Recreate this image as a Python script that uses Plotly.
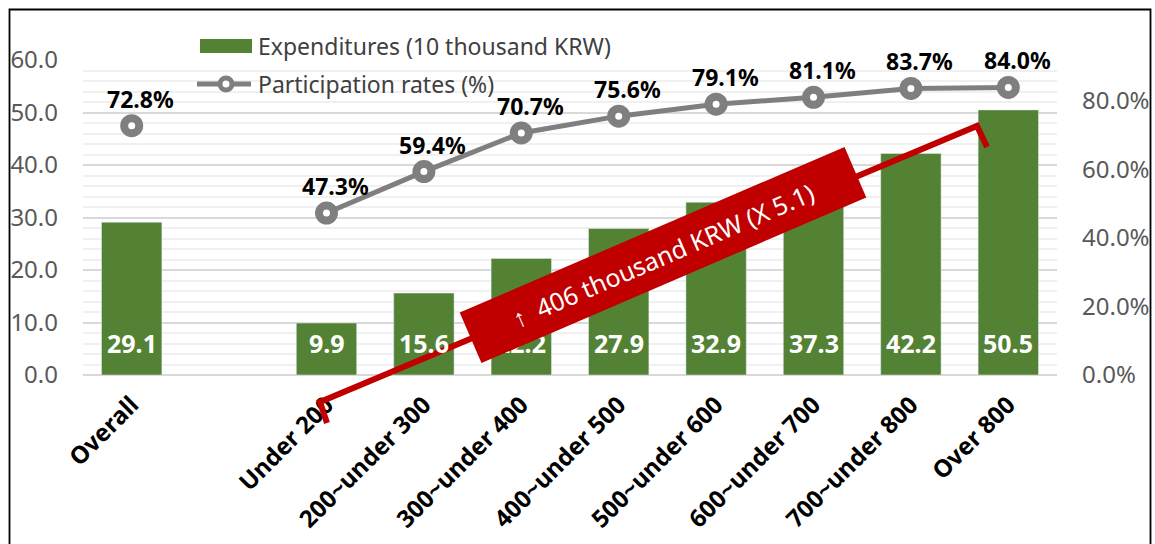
import plotly.graph_objects as go

categories = ["Overall", " ", "Under 200", "200~under 300", "300~under 400", "400~under 500",
              "500~under 600", "600~under 700", "700~under 800", "Over 800"]
expenditures = [29.1, None, 9.9, 15.6, 22.2, 27.9, 32.9, 37.3, 42.2, 50.5]
participation = [72.8, None, 47.3, 59.4, 70.7, 75.6, 79.1, 81.1, 83.7, 84.0]
left_ticks = [0, 10, 20, 30, 40, 50, 60]
right_ticks = [0, 20, 40, 60, 80]

W, H = 1155, 544
L, R, T, B = 83, 1057, 60, 375   # plot area in pixels


def px(x):
    return (x - L) / (R - L)


def py(y):
    return (B - y) / (B - T)


GREEN = "#548235"
GRAY = "#7F7F7F"
RED = "#C00000"
FONT = "Noto Sans"

fig = go.Figure()
fig.add_trace(go.Bar(x=categories, y=expenditures, marker_color=GREEN, width=0.62,
                     showlegend=False, hoverinfo="skip"))
fig.add_trace(go.Scatter(x=categories, y=participation, yaxis="y2", mode="lines+markers",
                         line=dict(color=GRAY, width=5), connectgaps=False,
                         marker=dict(symbol="circle", size=15, color="white",
                                     line=dict(color=GRAY, width=8)),
                         showlegend=False, hoverinfo="skip"))

annotations = []
# bar value labels
for c, v in zip(categories, expenditures):
    if v is None:
        continue
    annotations.append(dict(x=c, y=0, xref="x", yref="y", text=f"<b>{v:.1f}</b>",
                            showarrow=False, yanchor="middle", yshift=32,
                            font=dict(family=FONT, size=25, color="white")))
# line value labels
for c, v in zip(categories, participation):
    if v is None:
        continue
    annotations.append(dict(x=c, y=v, xref="x", yref="y2", text=f"<b>{v:.1f}%</b>",
                            showarrow=False, yanchor="middle", yshift=27, xshift=9,
                            font=dict(family=FONT, size=23, color="black")))

# legend texts
annotations.append(dict(x=px(256), y=py(46), xref="paper", yref="paper",
                        text="Expenditures (10 thousand KRW)", showarrow=False,
                        xanchor="left", yanchor="middle",
                        font=dict(family=FONT, size=23, color="#404040")))
annotations.append(dict(x=px(256), y=py(84), xref="paper", yref="paper",
                        text="Participation rates (%)", showarrow=False,
                        xanchor="left", yanchor="middle",
                        font=dict(family=FONT, size=23, color="#404040")))

# red callout box
annotations.append(dict(x=px(663), y=py(255), xref="paper", yref="paper",
                        text="↑\u00a0\u00a0406 thousand KRW (X 5.1)", showarrow=False,
                        textangle=-23.3, bgcolor=RED, width=418, height=54,
                        align="center", valign="middle", borderpad=0,
                        font=dict(family=FONT, size=25, color="white")))

shapes = []
# legend symbols
shapes.append(dict(type="rect", xref="paper", yref="paper", x0=px(200), x1=px(252),
                   y0=py(53), y1=py(39), fillcolor=GREEN, line=dict(width=0)))
shapes.append(dict(type="line", xref="paper", yref="paper", x0=px(197), x1=px(251),
                   y0=py(84), y1=py(84), line=dict(color=GRAY, width=5)))
shapes.append(dict(type="circle", xref="paper", yref="paper", x0=px(220), x1=px(232),
                   y0=py(90), y1=py(78), fillcolor="white", line=dict(color=GRAY, width=5)))
# red bracket line
pts = [(327, 423), (320, 402), (977, 126), (987, 147)]
path = "M " + " L ".join(f"{px(x):.5f},{py(y):.5f}" for x, y in pts)
shapes.append(dict(type="path", xref="paper", yref="paper", path=path,
                   line=dict(color=RED, width=6)))
# outer border
shapes.append(dict(type="rect", xref="paper", yref="paper", x0=px(9.5), x1=px(1150.5),
                   y0=py(600), y1=py(9.5), line=dict(color="black", width=1.8),
                   fillcolor="rgba(0,0,0,0)"))

fig.update_layout(
    width=W, height=H,
    margin=dict(l=L, r=W - R, t=T, b=H - B, autoexpand=False),
    paper_bgcolor="white", plot_bgcolor="white",
    bargap=0.38,
    showlegend=False,
    xaxis=dict(type="category", range=[-0.5, len(categories) - 0.5],
               tickangle=-45, showgrid=False, showline=False,
               ticks="", ticklabelstandoff=10, automargin=False,
               tickfont=dict(family=FONT, size=24, color="black", weight="bold")),
    yaxis=dict(range=[0, 60], tickvals=left_ticks, automargin=False,
               ticktext=[f"{v:.1f}" for v in left_ticks],
               showgrid=True, gridcolor="#D9D9D9", gridwidth=2,
               zeroline=True, zerolinecolor="#D9D9D9", zerolinewidth=2,
               minor=dict(dtick=2, showgrid=True, gridcolor="#F0F0F0", gridwidth=1.5),
               ticks="", ticklabelstandoff=24,
               tickfont=dict(family=FONT, size=24, color="#595959")),
    yaxis2=dict(range=[0, 92], overlaying="y", side="right", tickvals=right_ticks,
                ticktext=[f"{v:.1f}%" for v in right_ticks], showgrid=False,
                zeroline=False, ticks="", ticklabelstandoff=24, automargin=False,
                tickfont=dict(family=FONT, size=24, color="#595959")),
    annotations=annotations,
    shapes=shapes,
)

fig.write_html("out.html", config={"displayModeBar": False},
               post_script="document.body.style.margin='0px';document.body.style.overflow='hidden';")
